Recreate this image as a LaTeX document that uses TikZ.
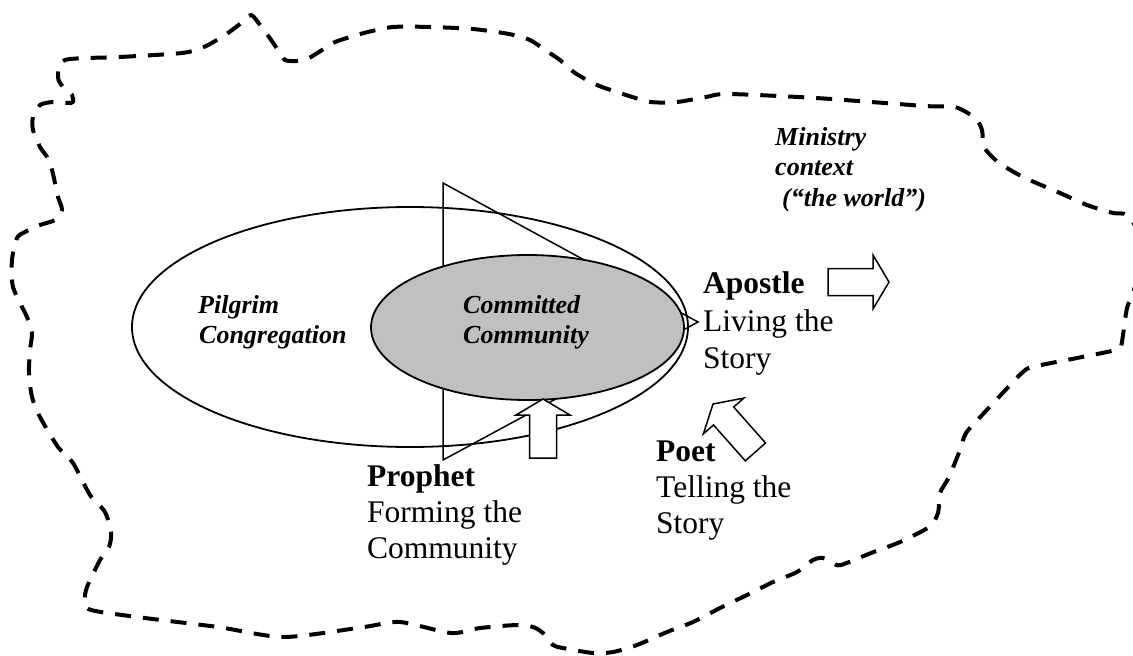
\documentclass[tikz,border=0pt]{standalone}
\usepackage{fontspec}
\setmainfont{Liberation Serif}
\usetikzlibrary{shapes.geometric}
\definecolor{silver}{RGB}{192,192,192}
\tikzset{
  worldline/.style={line width=4pt, dash pattern=on 16pt off 12pt, line cap=butt, line join=round},
  bigoval/.style={ellipse, draw, line width=1.8pt, minimum width=556pt, minimum height=240pt, inner sep=0pt},
  smalloval/.style={ellipse, draw, fill=silver, line width=1.8pt, minimum width=313pt, minimum height=145pt, inner sep=0pt},
  tri/.style={draw, line width=1.5pt, line join=miter},
  blockarrow/.style={draw, fill=white, line width=1.5pt, line join=miter},
  barrow/.pic={\draw[blockarrow] (0,0) -- (-16,27) -- (-16,13.5) -- (-#1,13.5) -- (-#1,-13.5) -- (-16,-13.5) -- (-16,-27) -- cycle;},
  role/.style={font=\fontsize{31.5}{37}\selectfont\bfseries, anchor=base west, inner sep=0pt},
  desc/.style={font=\fontsize{31.5}{37}\selectfont, anchor=base west, inner sep=0pt},
  lab/.style={font=\fontsize{26}{30}\selectfont\bfseries\itshape, anchor=base west, inner sep=0pt},
}
\begin{document}
\begin{tikzpicture}[x=1pt,y=-1pt]
\path[use as bounding box, clip] (0,0) rectangle (1133,656);
\fill[white] (0,0) rectangle (1133,656);

% Pilgrim congregation
\node[bigoval] (pilgrim) at (410,327) {};
% triangle
\coordinate (t1) at (443,183);
\coordinate (t2) at (443,460);
\coordinate (t3) at (698,322);
\draw[tri] (t1) -- (t3) -- (t2) -- cycle;
% Committed community
\node[smalloval] (committed) at (527.5,327.5) {};

% block arrows
\pic[rotate=90] (prophetarrow) at (543,399) {barrow=59};
\pic (apostlearrow) at (889,282) {barrow=61};
\pic[rotate=131.5] (poetarrow) at (713,404) {barrow=64};

% labels
\node[lab] (pil1) at (198,313) {Pilgrim};
\node[lab] (pil2) at (199,343) {Congregation};
\node[lab] (com1) at (463,313) {Committed};
\node[lab] (com2) at (463,343) {Community};
\node[lab] (min1) at (775,145) {Ministry};
\node[lab] (min2) at (775,175) {context};
\node[lab] (min3) at (782,206) {(“the world”)};

\node[role] (apo1) at (703,293) {Apostle};
\node[desc] (apo2) at (703,331) {Living the};
\node[desc] (apo3) at (703,368) {Story};

\node[role] (poe1) at (656,461) {Poet};
\node[desc] (poe2) at (656,497) {Telling the};
\node[desc] (poe3) at (656,533) {Story};

\node[role] (pro1) at (367,486) {Prophet};
\node[desc] (pro2) at (367,522) {Forming the};
\node[desc] (pro3) at (367,558) {Community};

% ministry context outline
\draw[worldline] plot[smooth cycle, tension=0.45] coordinates {
(65,60) (120,57) (182,53) (204,47) (225,35) (240,24) (251,15) (260,25) (269,37) (278,50) (285,60) (297,61) (309,58) (322,50) (335,42) (364,33) (393,27) (430,27) (473,29) (509,34) (530,40) (545,50) (560,60) (575,73) (597,85) (626,95) (651,102) (677,102) (706,97) (728,94) (816,98) (925,106) (955,107) (975,118) (982,130) (984,147) (998,162) (1023,177) (1060,193) (1087,205) (1113,213) (1127,215) (1140,235) (1142,260) (1133,293) (1127,308) (1123,335) (1120,348) (1107,352) (1077,358) (1032,367) (1023,372) (1013,382) (984,413) (966,433) (960,450) (949,477) (940,493) (938,513) (929,527) (900,542) (871,553) (841,565) (833,563) (823,558) (813,560) (797,572) (773,582) (747,595) (720,608) (693,622) (667,632) (637,645) (613,652) (593,653) (563,648) (553,645) (543,633) (533,627) (517,625) (480,628) (451,633) (400,622) (364,627) (284,637) (218,627) (145,618) (91,610) (85,600) (87,587) (100,560) (109,547) (111,533) (105,512) (90,495) (73,463) (58,447) (40,417) (32,397) (29,373) (30,350) (32,333) (27,317) (13,287) (12,260) (17,238) (25,232) (40,225) (55,220) (62,210) (58,197) (55,183) (52,170) (47,157) (40,147) (33,130) (33,117) (40,105) (53,102) (68,103) (73,102) (72,95) (63,87) (58,77)
};
\end{tikzpicture}
\end{document}
